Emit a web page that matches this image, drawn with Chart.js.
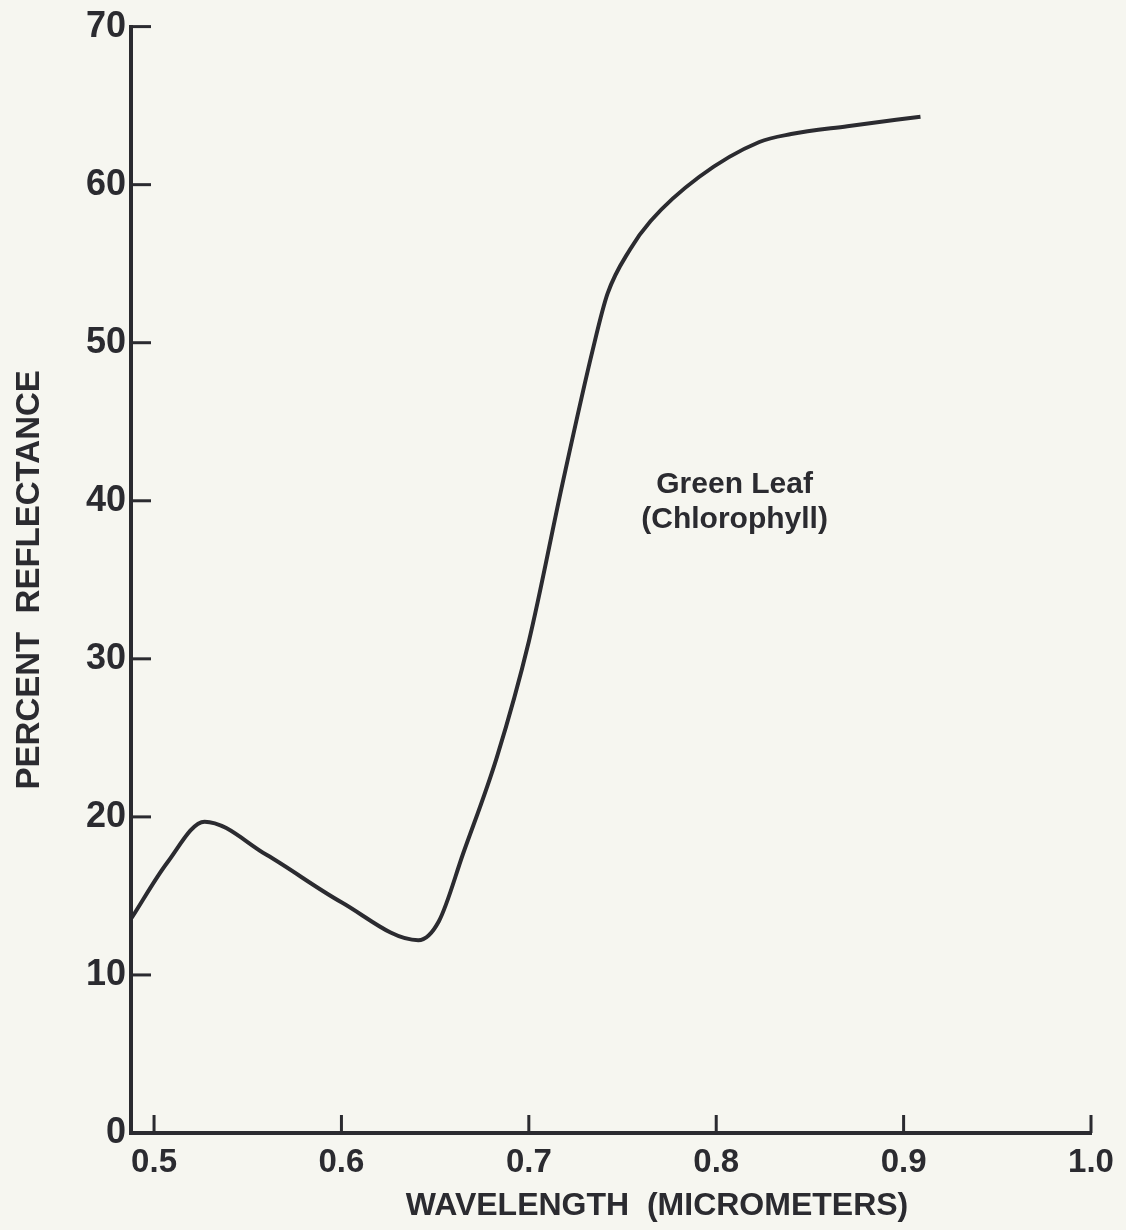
<!DOCTYPE html>
<html>
<head>
<meta charset="utf-8">
<script src="https://cdn.jsdelivr.net/npm/chart.js@4.4.1/dist/chart.umd.min.js"></script>
<style>
  html, body { margin: 0; padding: 0; background: #f6f6f0; }
  #wrap { width: 1126px; height: 1230px; }
</style>
</head>
<body>
<div id="wrap"><canvas id="leafChart" width="1126" height="1230"></canvas></div>
<script>
// wavelength (micrometers) and percent reflectance
const wavelength = [0.488, 0.507, 0.527, 0.560, 0.600, 0.641, 0.652, 0.665, 0.683, 0.700,
  0.718, 0.734, 0.742, 0.754, 0.765, 0.791, 0.823, 0.840, 0.870, 0.909];
const reflectance = [13.6, 17.1, 19.7, 17.6, 14.6, 12.2, 13.4, 17.7, 23.8, 31.1,
  41.1, 49.5, 53.1, 55.9, 57.7, 60.5, 62.7, 63.2, 63.7, 64.3];

const xTicks = [0.5, 0.6, 0.7, 0.8, 0.9, 1.0];
const xTickLabels = ["0.5", "0.6", "0.7", "0.8", "0.9", "1.0"];
const yTicks = [0, 10, 20, 30, 40, 50, 60, 70];
const yTickLabels = ["0", "10", "20", "30", "40", "50", "60", "70"];

const xTitle = "WAVELENGTH  (MICROMETERS)";
const yTitle = "PERCENT  REFLECTANCE";
const curveLabel = ["Green Leaf", "(Chlorophyll)"];

const ink = "#2b2b30";
const font = "'Liberation Sans', Arial, sans-serif";

const paperBg = {
  id: "paperBg",
  beforeDraw(chart) {
    const ctx = chart.ctx;
    ctx.save();
    ctx.fillStyle = "#f6f6f0";
    ctx.fillRect(0, 0, chart.width, chart.height);
    ctx.restore();
  }
};

// inward tick marks, axis title and the curve label
const extras = {
  id: "extras",
  afterDraw(chart) {
    const ctx = chart.ctx;
    const area = chart.chartArea;
    const xs = chart.scales.x, ys = chart.scales.y;
    ctx.save();
    ctx.strokeStyle = ink;
    ctx.lineWidth = 3;
    yTicks.forEach(v => {
      if (v === 0) return;
      const py = ys.getPixelForValue(v);
      ctx.beginPath();
      ctx.moveTo(area.left, py);
      ctx.lineTo(area.left + 20, py);
      ctx.stroke();
    });
    xTicks.forEach(v => {
      const px = xs.getPixelForValue(v);
      ctx.beginPath();
      ctx.moveTo(px, area.bottom);
      ctx.lineTo(px, area.bottom - 18);
      ctx.stroke();
    });

    ctx.fillStyle = ink;
    ctx.font = "bold 32px " + font;
    ctx.textAlign = "center";
    ctx.textBaseline = "middle";
    ctx.fillText(xTitle, 657, 1206);

    ctx.font = "bold 30px " + font;
    ctx.textAlign = "left";
    ctx.fillText(curveLabel[0], xs.getPixelForValue(0.768), ys.getPixelForValue(41.0));
    ctx.fillText(curveLabel[1], xs.getPixelForValue(0.760), ys.getPixelForValue(38.8));
    ctx.restore();
  }
};

new Chart(document.getElementById("leafChart"), {
  type: "line",
  data: {
    datasets: [{
      data: wavelength.map((w, i) => ({ x: w, y: reflectance[i] })),
      borderColor: ink,
      borderWidth: 4,
      pointRadius: 0,
      fill: false,
      cubicInterpolationMode: "monotone"
    }]
  },
  options: {
    responsive: false,
    animation: false,
    layout: { padding: { left: 0, top: 26, right: 35, bottom: 0 } },
    plugins: { legend: { display: false }, tooltip: { enabled: false } },
    scales: {
      x: {
        type: "linear",
        min: 0.4877,
        max: 1.0,
        afterFit(scale) { scale.height = 97; },
        afterBuildTicks(scale) { scale.ticks = xTicks.map(v => ({ value: v })); },
        grid: { display: false, drawTicks: false },
        border: { display: true, color: ink, width: 4 },
        ticks: {
          padding: 10,
          color: ink,
          font: { family: font, size: 33, weight: "bold" },
          callback: (v, i) => xTickLabels[i]
        }
      },
      y: {
        min: 0,
        max: 70,
        afterFit(scale) { scale.width = 131; },
        afterBuildTicks(scale) { scale.ticks = yTicks.map(v => ({ value: v })); },
        grid: { display: false, drawTicks: false },
        border: { display: true, color: ink, width: 4 },
        ticks: {
          padding: 5,
          color: ink,
          font: { family: font, size: 36, weight: "bold" },
          callback: (v, i) => yTickLabels[i]
        },
        title: {
          display: true,
          text: yTitle,
          color: ink,
          font: { family: font, size: 33, weight: "bold" },
          padding: { top: 10, bottom: 0 }
        }
      }
    }
  },
  plugins: [paperBg, extras]
});
</script>
</body>
</html>
